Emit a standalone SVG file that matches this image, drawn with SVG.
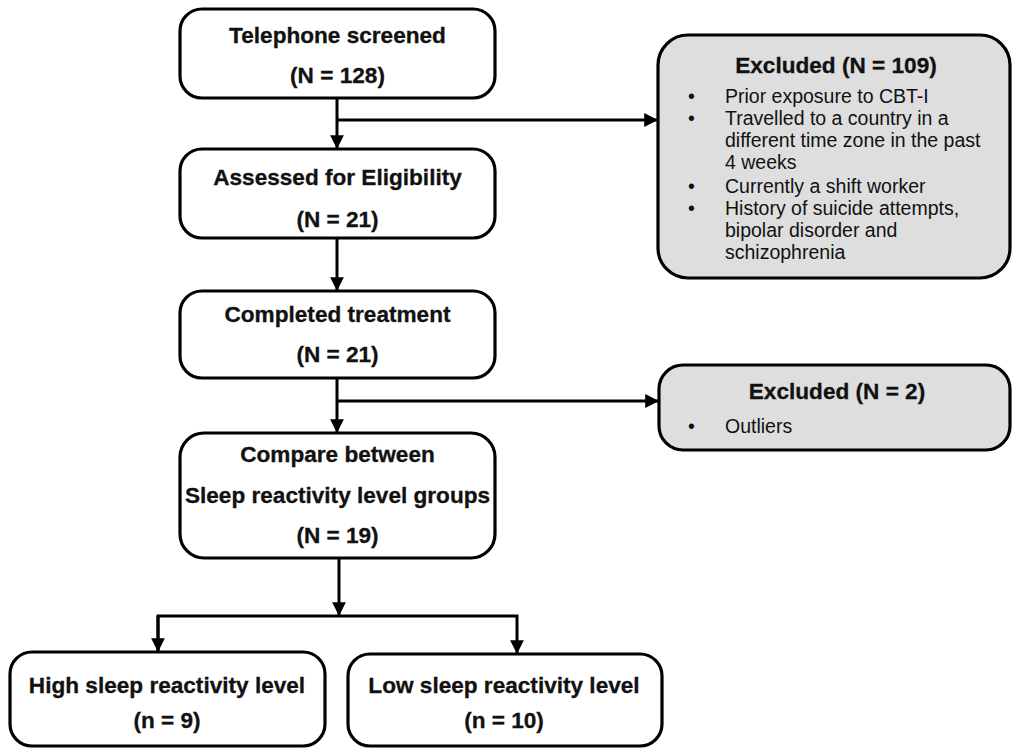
<svg xmlns="http://www.w3.org/2000/svg" width="1012" height="749" viewBox="0 0 1012 749">
<style>
.box{fill:#fff;stroke:#000;stroke-width:3.2}
.ex{fill:#dedede;stroke:#000;stroke-width:3.2}
.b{font-family:"Liberation Sans",Arial,sans-serif;font-weight:bold;font-size:22.6px;text-anchor:middle;fill:#111;stroke:#111;stroke-width:0.3}
.r{font-family:"Liberation Sans",Arial,sans-serif;font-size:19.5px;fill:#111}
.c{fill:none;stroke:#000;stroke-width:3}
</style>
<defs>
<marker id="ah" viewBox="0 0 10 10" refX="10" refY="5" markerWidth="4.6" markerHeight="4.6" orient="auto" markerUnits="strokeWidth">
<path d="M0,0 L10,5 L0,10 z" fill="#000"/>
</marker>
</defs>
<rect width="1012" height="749" fill="#fff"/>
<g id="connectors">
<path class="c" d="M337,98 V149" marker-end="url(#ah)"/>
<path class="c" d="M337,120 H658" marker-end="url(#ah)"/>
<path class="c" d="M337,238 V291" marker-end="url(#ah)"/>
<path class="c" d="M337,378 V433" marker-end="url(#ah)"/>
<path class="c" d="M337,401 H659" marker-end="url(#ah)"/>
<path class="c" d="M339,558 V616" marker-end="url(#ah)"/>
<path class="c" d="M158,652 V616 H517 V654" marker-end="url(#ah)"/>
<path class="c" d="M158,616 V652" marker-end="url(#ah)"/>
</g>
<g id="n1">
<rect class="box" x="180" y="9" width="315" height="89" rx="22"/>
<text class="b" x="337.5" y="43">Telephone screened</text>
<text class="b" x="337.5" y="83">(N = 128)</text>
</g>
<g id="n2">
<rect class="box" x="180" y="149" width="315" height="89" rx="22"/>
<text class="b" x="337.5" y="185">Assessed for Eligibility</text>
<text class="b" x="337.5" y="227">(N = 21)</text>
</g>
<g id="n3">
<rect class="box" x="180" y="291" width="315" height="87" rx="22"/>
<text class="b" x="337.5" y="322">Completed treatment</text>
<text class="b" x="337.5" y="362">(N = 21)</text>
</g>
<g id="n4">
<rect class="box" x="180" y="433" width="315" height="125" rx="24"/>
<text class="b" x="337.5" y="462">Compare between</text>
<text class="b" x="337.5" y="503">Sleep reactivity level groups</text>
<text class="b" x="337.5" y="543">(N = 19)</text>
</g>
<g id="ex1">
<rect class="ex" x="658" y="35" width="352" height="243" rx="30"/>
<text class="b" x="836" y="73">Excluded (N = 109)</text>
<g class="r">
<text x="688" y="103">•</text><text x="725" y="103">Prior exposure to CBT-I</text>
<text x="688" y="125">•</text><text x="725" y="125">Travelled to a country in a</text>
<text x="725" y="147">different time zone in the past</text>
<text x="725" y="169">4 weeks</text>
<text x="688" y="193">•</text><text x="725" y="193">Currently a shift worker</text>
<text x="688" y="215">•</text><text x="725" y="215">History of suicide attempts,</text>
<text x="725" y="237">bipolar disorder and</text>
<text x="725" y="259">schizophrenia</text>
</g>
</g>
<g id="ex2">
<rect class="ex" x="659" y="365" width="351" height="85" rx="24"/>
<text class="b" x="837" y="399">Excluded (N = 2)</text>
<text class="r" x="688" y="433">•</text><text class="r" x="725" y="433">Outliers</text>
</g>
<g id="n5">
<rect class="box" x="10" y="652" width="315" height="94" rx="22"/>
<text class="b" x="167" y="693">High sleep reactivity level</text>
<text class="b" x="167" y="728">(n = 9)</text>
</g>
<g id="n6">
<rect class="box" x="348" y="654" width="314" height="92" rx="22"/>
<text class="b" x="504" y="693">Low sleep reactivity level</text>
<text class="b" x="504" y="728">(n = 10)</text>
</g>
</svg>
